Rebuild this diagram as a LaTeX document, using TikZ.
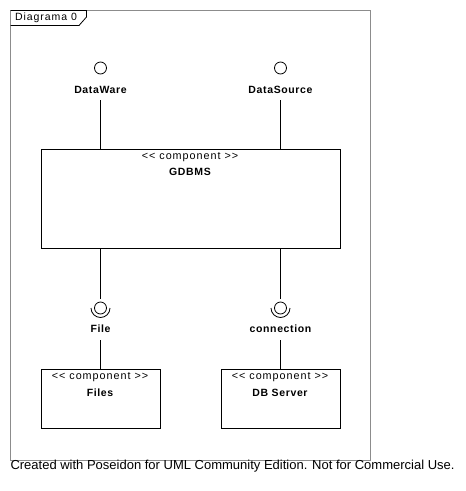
\documentclass[tikz,border=0pt]{standalone}
\usepackage{fontspec}
\setmainfont{Liberation Sans}
\newfontfamily\widefont[LetterSpace=6]{Liberation Sans}
\newfontfamily\widerfont[LetterSpace=9]{Liberation Sans}
\begin{document}
\begin{tikzpicture}[x=1pt,y=-1pt,line width=1pt,
  frameline/.style={draw=gray!90,line width=1pt},
  comp/.style={draw=black,line width=1pt,rectangle,inner sep=0pt,anchor=north west},
  lbl/.style={font=\widefont\fontsize{10.5}{12}\selectfont\bfseries,inner sep=0pt},
  stereo/.style={font=\widerfont\fontsize{10.8}{12}\selectfont,inner sep=0pt},
  conn/.style={draw=black,line width=1pt}]
\useasboundingbox (0,0) rectangle (466,491);
% frame
\draw[frameline] (10.5,10.5) rectangle (370.5,460.5);
\node[inner sep=0pt] (tabtxt) at (46,18) {\widerfont\fontsize{10.5}{12}\selectfont Diagrama 0};
\draw[black,line width=0.8pt] (10.5,10.5) -- (86.5,10.5) -- (86.5,17) -- (79,25.5) -- (10.5,25.5);
% components
\node[comp,minimum width=299pt,minimum height=99pt] (gdbms) at (40.5,148.5) {};
\node[stereo] (gst) at (190,157) {\textless\textless{} component \textgreater\textgreater};
\node[lbl] (gname) at (190,172) {GDBMS};
\node[comp,minimum width=119pt,minimum height=59pt] (files) at (40.5,368.5) {};
\node[stereo] (fst) at (100,377) {\textless\textless{} component \textgreater\textgreater};
\node[lbl] (fname) at (100,393) {Files};
\node[comp,minimum width=119pt,minimum height=59pt] (dbs) at (220.5,368.5) {};
\node[stereo] (dst) at (280,377) {\textless\textless{} component \textgreater\textgreater};
\node[lbl] (dname) at (280,393) {DB Server};
% provided interfaces (lollipops)
\node[circle,draw,line width=0.8pt,minimum size=12pt,inner sep=0pt] (dw) at (100.5,68) {};
\node[lbl] (dwl) at (100.5,90) {DataWare};
\node[circle,draw,line width=0.8pt,minimum size=12pt,inner sep=0pt] (ds) at (280.5,68) {};
\node[lbl] (dsl) at (280.5,90) {DataSource};
\coordinate (dwtop) at (100.5,100);
\coordinate (dstop) at (280.5,100);
\draw[conn] (dwtop) -- (dwtop |- gdbms.north);
\draw[conn] (dstop) -- (dstop |- gdbms.north);
% required interfaces (sockets)
\node[circle,draw,line width=0.8pt,minimum size=12pt,inner sep=0pt] (fb) at (100.5,308) {};
\draw[line width=0.8pt] (91,308) arc[start angle=180,end angle=0,radius=9.5];
\node[lbl] (fl) at (100.5,329) {File};
\node[circle,draw,line width=0.8pt,minimum size=12pt,inner sep=0pt] (cb) at (280.5,308) {};
\draw[line width=0.8pt] (271,308) arc[start angle=180,end angle=0,radius=9.5];
\node[lbl] (cl) at (280.5,329) {connection};
\coordinate (fsock) at (100.5,298.5);
\coordinate (csock) at (280.5,298.5);
\draw[conn] (fsock |- gdbms.south) -- (fsock);
\draw[conn] (csock |- gdbms.south) -- (csock);
\coordinate (fbot) at (100.5,340);
\coordinate (cbot) at (280.5,340);
\draw[conn] (fbot) -- (fbot |- files.north);
\draw[conn] (cbot) -- (cbot |- dbs.north);
% footer
\node[anchor=west,inner sep=0pt] (foot) at (10,466) {\fontsize{13}{15}\selectfont Created with Poseidon for UML Community Edition. Not for Commercial Use.};
\end{tikzpicture}
\end{document}
